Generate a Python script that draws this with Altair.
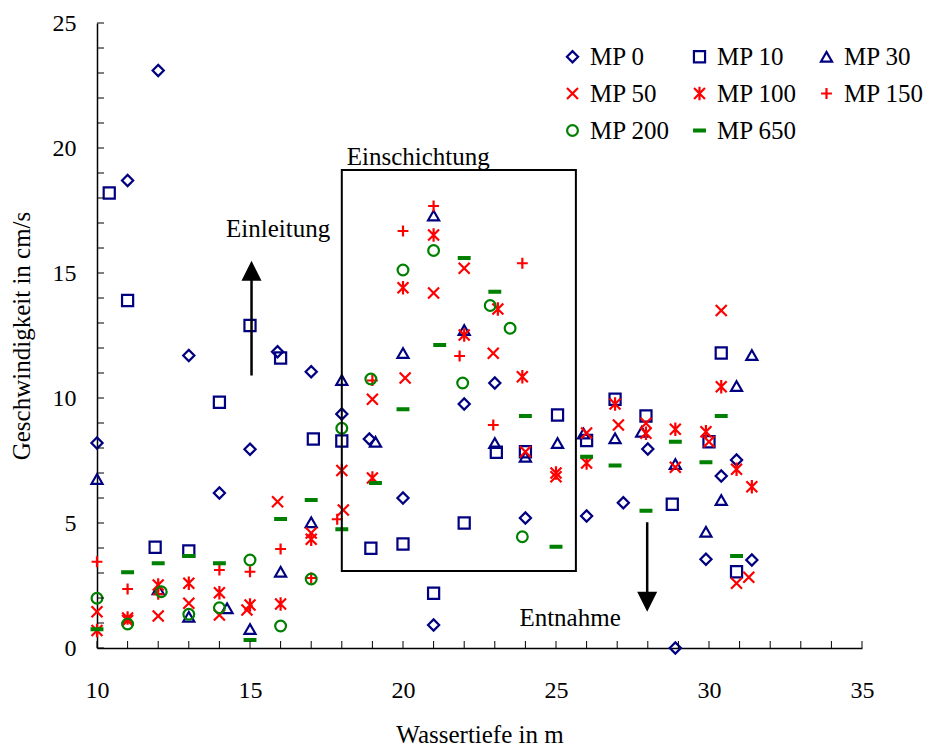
import altair as alt
import pandas as pd

series = ["MP 0", "MP 10", "MP 30", "MP 50", "MP 100", "MP 150", "MP 200", "MP 650"]
colors = ["#000080", "#000080", "#000080", "#FF0000", "#FF0000", "#FF0000", "#008000", "#008000"]
X_PATH = "M-1,-1L1,1M-1,1L1,-1"
AST_PATH = "M-1,-1L1,1M-1,1L1,-1M0,-1.25L0,1.25"
PLUS_PATH = "M-1,0L1,0M0,-1L0,1"
DASH_PATH = "M-1,-0.17L1,-0.17L1,0.17L-1,0.17Z"
shapes = ["diamond", "square", "triangle-up", X_PATH, AST_PATH, PLUS_PATH, "circle", DASH_PATH]
sizes = [125, 115, 150, 110, 125, 160, 100, 165]

mp0_x = [10, 11, 12, 13, 14, 15, 15.9, 17, 18, 18.9, 20, 21, 22, 23, 24, 26, 27.2, 28, 28.9, 29.9, 30.4, 30.9, 31.4]
mp0_y = [8.2, 18.7, 23.1, 11.7, 6.2, 7.95, 11.85, 11.05, 9.36, 8.36, 6.0, 0.92, 9.76, 10.6, 5.2, 5.28, 5.81, 7.96, 0.0, 3.55, 6.88, 7.52, 3.52]

mp10_x = [10.4, 11, 11.9, 13, 14, 15, 16, 17.07, 18, 18.95, 20, 21, 22, 23.05, 24, 25.05, 26, 26.93, 27.94, 28.8, 30, 30.4, 30.9]
mp10_y = [18.2, 13.9, 4.03, 3.88, 9.83, 12.9, 11.6, 8.36, 8.28, 3.99, 4.16, 2.19, 5.0, 7.83, 7.85, 9.32, 8.3, 9.95, 9.28, 5.75, 8.25, 11.8, 3.05]

mp30_x = [10, 12, 13, 14.25, 15, 16, 17, 18, 19.1, 20, 21, 22, 23, 24, 25.05, 25.9, 26.93, 27.8, 28.9, 29.9, 30.4, 30.9, 31.4]
mp30_y = [6.76, 2.35, 1.25, 1.59, 0.76, 3.05, 5.03, 10.72, 8.25, 11.8, 17.3, 12.72, 8.2, 7.65, 8.2, 8.58, 8.39, 8.65, 7.36, 4.65, 5.92, 10.48, 11.72]

mp50_x = [10, 11, 12, 13, 14, 14.9, 15.9, 17, 18.05, 19, 20.07, 21, 22, 22.95, 24, 25, 26, 27.04, 27.94, 28.9, 30, 30.4, 30.9, 31.3]
mp50_y = [1.45, 1.1, 1.28, 1.79, 1.32, 1.52, 5.85, 4.6, 5.52, 9.95, 10.8, 14.2, 15.19, 11.79, 7.85, 6.85, 8.6, 8.92, 8.99, 7.23, 8.25, 13.5, 2.59, 2.83]

mp100_x = [10, 11, 12, 13, 14, 15, 16, 17, 18, 19, 20, 21, 22, 23.1, 23.9, 25, 26, 26.93, 27.94, 28.9, 29.9, 30.4, 30.9, 31.4]
mp100_y = [0.7, 1.2, 2.52, 2.59, 2.21, 1.72, 1.76, 4.35, 7.1, 6.8, 14.41, 16.52, 12.52, 13.56, 10.85, 7.0, 7.4, 9.76, 8.59, 8.75, 8.65, 10.45, 7.15, 6.45]

mp150_x = [10, 11, 12, 14, 15, 16, 17, 17.85, 19, 20, 21, 21.85, 22.95, 23.9]
mp150_y = [3.45, 2.36, 2.15, 3.12, 3.05, 3.96, 2.8, 5.15, 10.7, 16.68, 17.68, 11.68, 8.92, 15.39]

mp200_x = [10, 11, 12.1, 13, 14, 15, 16, 17, 18, 18.95, 20, 21, 21.95, 22.85, 23.5, 23.9]
mp200_y = [1.99, 0.96, 2.25, 1.35, 1.61, 3.52, 0.88, 2.76, 8.79, 10.76, 15.12, 15.9, 10.6, 13.7, 12.79, 4.45]

mp650_x = [10, 11, 12, 13, 14, 15, 16, 17, 18, 19.1, 20, 21.2, 22, 23, 24, 25, 26, 26.93, 27.94, 28.9, 29.9, 30.4, 30.9]
mp650_y = [0.75, 3.03, 3.39, 3.68, 3.39, 0.32, 5.16, 5.92, 4.75, 6.6, 9.55, 12.12, 15.6, 14.25, 9.28, 4.05, 7.65, 7.3, 5.49, 8.25, 7.43, 9.28, 3.68]

all_x = [mp0_x, mp10_x, mp30_x, mp50_x, mp100_x, mp150_x, mp200_x, mp650_x]
all_y = [mp0_y, mp10_y, mp30_y, mp50_y, mp100_y, mp150_y, mp200_y, mp650_y]

x_ticks = list(range(10, 36))
y_ticks = list(range(0, 26))
x_labels = [10, 15, 20, 25, 30, 35]
y_labels = [0, 5, 10, 15, 20, 25]

# annotations (data units)
box_x, box_x2, box_y, box_y2 = [18.0], [25.65], [19.12], [3.08]
up_x, up_y, up_y2, up_head = [15.05], [10.9], [15.3], [15.09]
dn_x, dn_y, dn_y2, dn_head = [27.98], [5.03], [2.2], [1.85]
label_text = ["Einschichtung", "Einleitung", "Entnahme"]
label_x = [20.5, 15.92, 25.46]
label_y = [19.64, 16.76, 1.2]

rows = []
for s, xs, ys in zip(series, all_x, all_y):
    for a, b in zip(xs, ys):
        rows.append({"series": s, "x": a, "y": b})
df = pd.DataFrame(rows)

FONT = "Liberation Serif"
W, H = 765, 625

xscale = alt.Scale(domain=[10, 35], nice=False, zero=False)
yscale = alt.Scale(domain=[0, 25], nice=False, zero=False)

leg = alt.Legend(
    title=None, orient="none", legendX=463, legendY=21, columns=3, direction="horizontal",
    columnPadding=17, rowPadding=11, labelOffset=5, padding=0,
    labelFont=FONT, labelFontSize=25, labelColor="black",
)

points = alt.Chart(df).mark_point(filled=False, opacity=1, strokeWidth=2.2).encode(
    x=alt.X("x:Q", scale=xscale, axis=alt.Axis(values=x_labels, title="Wassertiefe in m")),
    y=alt.Y("y:Q", scale=yscale, axis=alt.Axis(values=y_labels, title="Geschwindigkeit in cm/s")),
    color=alt.Color("series:N", scale=alt.Scale(domain=series, range=colors), legend=leg),
    shape=alt.Shape("series:N", scale=alt.Scale(domain=series, range=shapes), legend=leg),
    size=alt.Size("series:N", scale=alt.Scale(domain=series, range=sizes), legend=leg),
)

xt = alt.Chart(pd.DataFrame({"x": x_ticks})).mark_rule(color="black", strokeWidth=1).encode(
    x=alt.X("x:Q", scale=xscale), y=alt.value(H), y2=alt.value(H - 7))
yt = alt.Chart(pd.DataFrame({"y": y_ticks})).mark_rule(color="black", strokeWidth=1).encode(
    y=alt.Y("y:Q", scale=yscale), x=alt.value(0), x2=alt.value(7))

box = alt.Chart(pd.DataFrame({"x": box_x, "x2": box_x2, "y": box_y, "y2": box_y2})).mark_rect(
    fillOpacity=0, stroke="black", strokeWidth=2).encode(
    x=alt.X("x:Q", scale=xscale), x2="x2:Q", y=alt.Y("y:Q", scale=yscale), y2="y2:Q")

up_df = pd.DataFrame({"x": up_x, "y": up_y, "y2": up_y2, "hy": up_head})
dn_df = pd.DataFrame({"x": dn_x, "y": dn_y, "y2": dn_y2, "hy": dn_head})

def arrow(d, head_path):
    line = alt.Chart(d).mark_rule(color="black", strokeWidth=2.5).encode(
        x=alt.X("x:Q", scale=xscale), y=alt.Y("y:Q", scale=yscale), y2="y2:Q")
    head = alt.Chart(d).mark_point(filled=True, color="black", opacity=1, size=400,
                                   strokeWidth=0, shape=head_path).encode(
        x=alt.X("x:Q", scale=xscale), y=alt.Y("hy:Q", scale=yscale))
    return line + head

up_arrow = arrow(up_df, "M0,-1L1,1L-1,1Z")
dn_arrow = arrow(dn_df, "M0,1L1,-1L-1,-1Z")

texts = alt.Chart(pd.DataFrame({"x": label_x, "y": label_y, "t": label_text})).mark_text(
    font=FONT, fontSize=25, color="black", baseline="middle", align="center").encode(
    x=alt.X("x:Q", scale=xscale), y=alt.Y("y:Q", scale=yscale), text="t:N")

chart = alt.layer(points, xt, yt, box, up_arrow, dn_arrow, texts).properties(
    width=W, height=H,
    autosize=alt.AutoSizeParams(type="none"),
    padding={"left": 97, "top": 23, "right": 69, "bottom": 98},
).configure(
    font=FONT,
    style={"guide-label": {"font": FONT, "fontSize": 25, "fill": "black"}},
).configure_view(stroke=None).configure_axis(
    grid=False, ticks=False, domainColor="black", domainWidth=1.5, labelFlush=False,
    labelFont=FONT, labelFontSize=24, labelColor="black",
    titleFont=FONT, titleFontSize=25, titleFontWeight="normal", titleColor="black",
).configure_axisX(labelPadding=30, titlePadding=20).configure_axisY(labelPadding=21, titlePadding=18
).configure_legend(labelFont=FONT, labelFontSize=25, labelColor="black", symbolStrokeWidth=2.2,
                   labelLimit=300)

chart.save("out.html", embed_options={"renderer": "svg", "actions": False})
